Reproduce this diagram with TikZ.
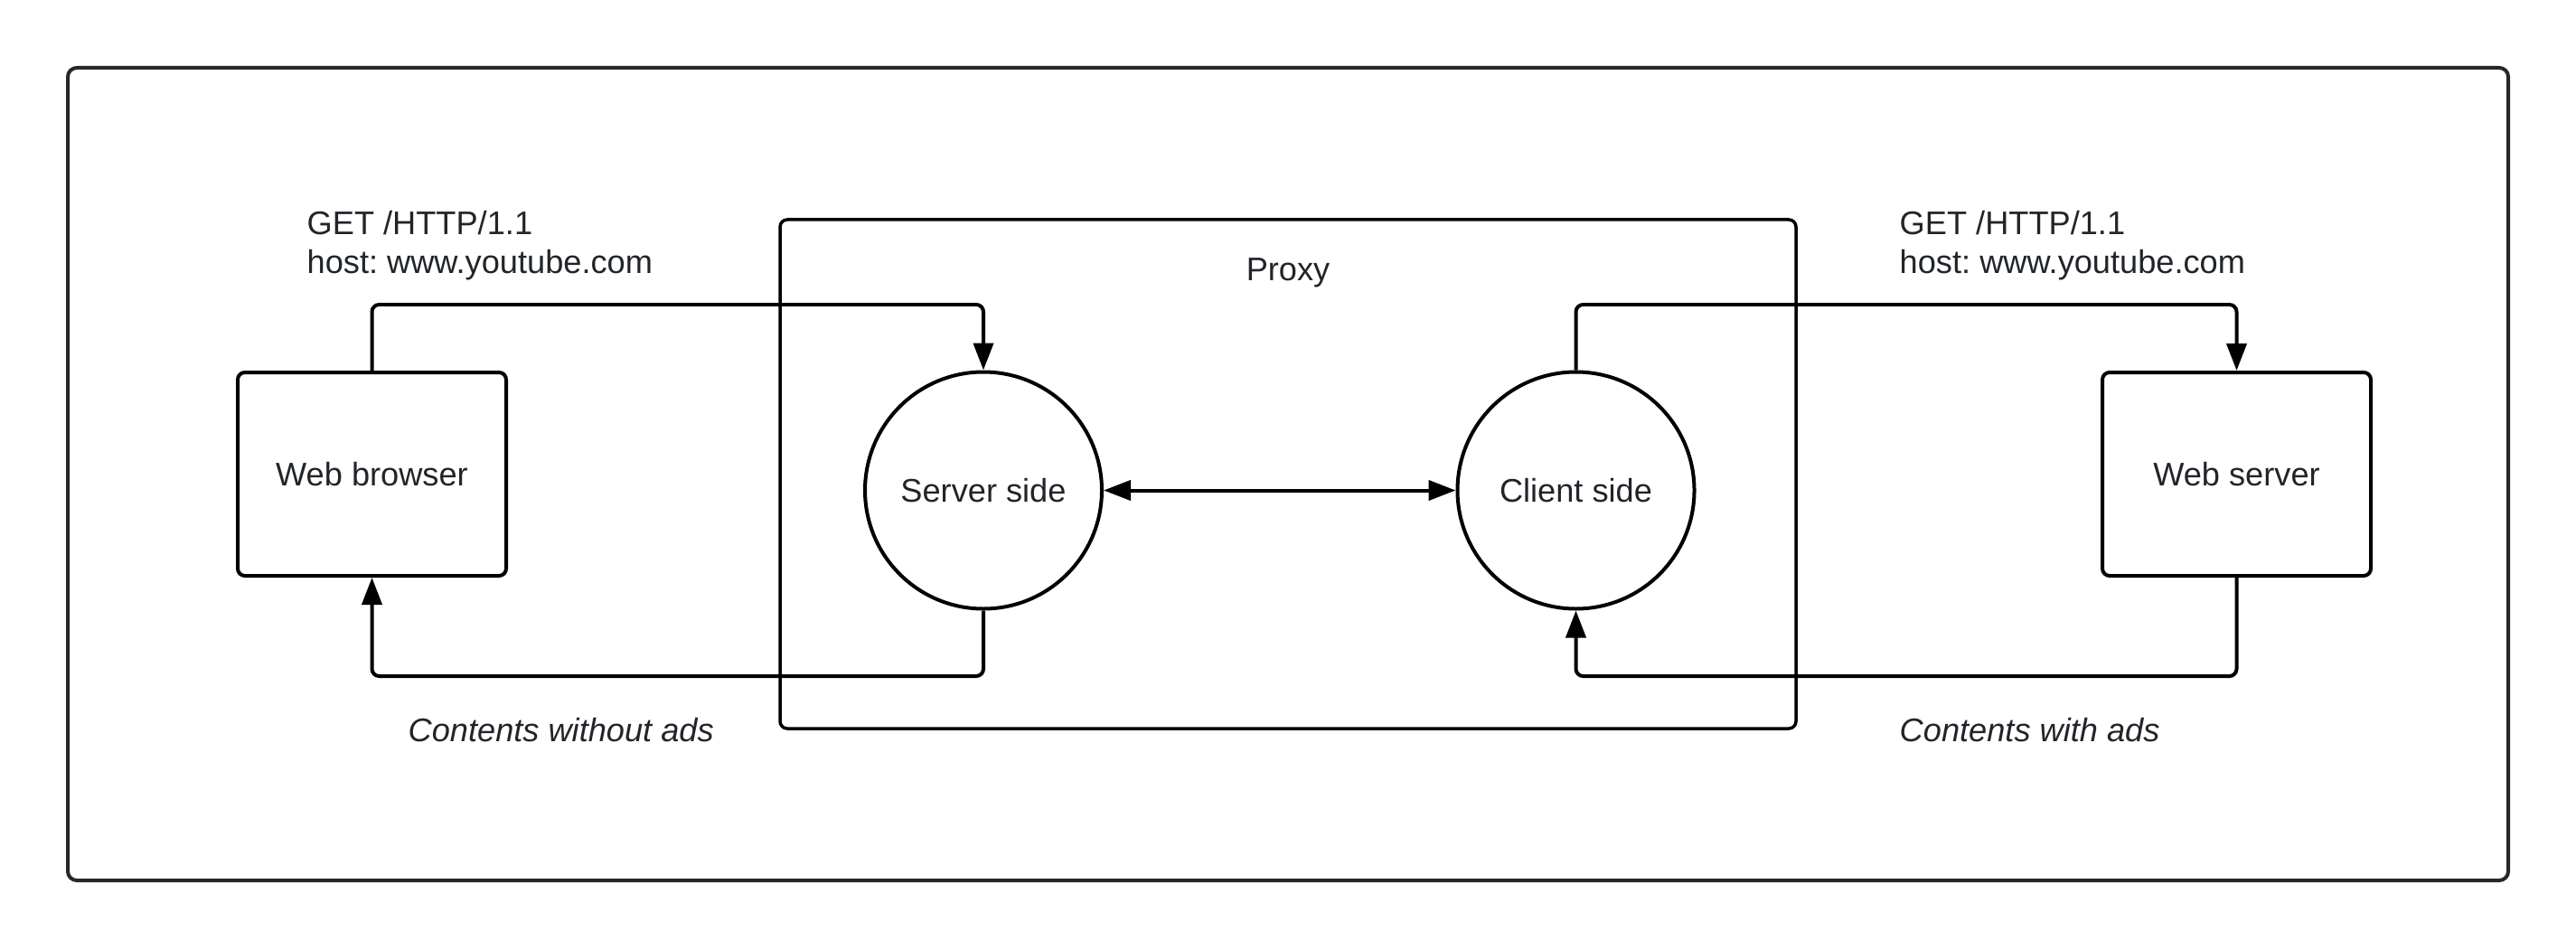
\documentclass[tikz,border=0pt]{standalone}
\usepackage{fontspec}
\setmainfont{Liberation Sans}
\usetikzlibrary{arrows.meta}
\definecolor{txt}{HTML}{212529}
\definecolor{frm}{HTML}{24282C}
\frenchspacing
\begin{document}
\begin{tikzpicture}[
  font=\fontsize{10.3pt}{12pt}\selectfont,
  >={Triangle[length=3mm,width=2.2mm]},
  conn/.style={line width=0.04cm, draw=black, rounded corners=0.08cm},
  boxnode/.style={draw=black, line width=0.04cm, rounded corners=0.08cm, minimum width=2.97cm, minimum height=2.25cm, inner sep=0pt, text=txt},
  circnode/.style={draw=black, line width=0.04cm, circle, minimum size=2.62cm, inner sep=0pt, text=txt},
  lbl/.style={text=txt, inner sep=0pt, anchor=base west, align=left}
]
\useasboundingbox (0,0) rectangle (28.5,10.5);
\node[draw=frm, line width=0.04cm, rounded corners=0.1cm, minimum width=27cm, minimum height=8.99cm, inner sep=0pt] (frame) at (14.25,5.255) {};
\node[draw=black, line width=0.035cm, rounded corners=0.08cm, minimum width=11.24cm, minimum height=5.63cm, inner sep=0pt] (proxy) at (14.25,5.255) {};
\node[text=txt, inner sep=0pt, anchor=base] (proxylbl) at (14.25,7.39) {Proxy};

\node[boxnode] (wb) at (4.115,5.255) {Web browser};
\node[boxnode] (ws) at (24.745,5.255) {Web server};
\node[circnode] (ss) at (10.88,5.075) {Server side};
\node[circnode] (cs) at (17.435,5.075) {Client side};

\coordinate (ytop) at (0,7.13);
\coordinate (ybot) at (0,3.02);

\draw[conn,->] (wb.north) -- (wb.north |- ytop) -- (ss.north |- ytop) -- (ss.north);
\draw[conn,->] (ss.south) -- (ss.south |- ybot) -- (wb.south |- ybot) -- (wb.south);
\draw[conn,->] (cs.north) -- (cs.north |- ytop) -- (ws.north |- ytop) -- (ws.north);
\draw[conn,->] (ws.south) -- (ws.south |- ybot) -- (cs.south |- ybot) -- (cs.south);
\draw[conn,<->] (ss.east) -- (cs.west);

\node[lbl] (req1a) at (3.39,7.90) {GET /HTTP/1.1};
\node[lbl] (req1b) at (3.39,7.48) {host: www.youtube.com};
\node[lbl] (req2a) at (21.01,7.90) {GET /HTTP/1.1};
\node[lbl] (req2b) at (21.01,7.48) {host: www.youtube.com};
\node[lbl] (resp1) at (4.51,2.30) {\itshape Contents without ads};
\node[lbl] (resp2) at (21.01,2.30) {\itshape Contents with ads};
\end{tikzpicture}
\end{document}
